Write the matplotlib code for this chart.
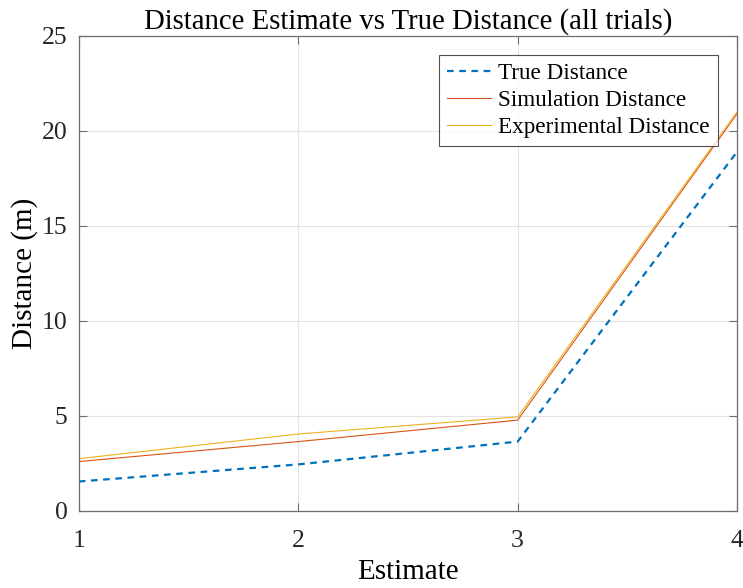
import matplotlib
matplotlib.use("Agg")
import matplotlib.pyplot as plt

estimates = [1, 2, 3, 4]
true_dist = [1.55, 2.45, 3.65, 18.9]
sim_dist = [2.6, 3.65, 4.78, 20.9]
exp_dist = [2.75, 4.05, 4.95, 21.0]
xticks = [1, 2, 3, 4]
yticks = [0, 5, 10, 15, 20, 25]

plt.rcParams['font.family'] = ['Liberation Serif', 'DejaVu Serif']

fig = plt.figure(figsize=(7.43, 5.88), dpi=100)
ax = fig.add_axes([0.106, 0.131, 0.886, 0.808])

ax.plot(estimates, true_dist, linestyle=(0, (3, 2.5)), color='#0072BD', linewidth=1.6, label='True Distance')
ax.plot(estimates, sim_dist, color='#D95319', linewidth=0.8, label='Simulation Distance')
ax.plot(estimates, exp_dist, color='#EDB120', linewidth=0.8, label='Experimental Distance')

ax.set_xlim(1, 4)
ax.set_ylim(0, 25)
ax.set_xticks(xticks)
ax.set_yticks(yticks)
ax.grid(True, color='#e3e3e3', linewidth=0.8)
ax.set_axisbelow(True)
for s in ax.spines.values():
    s.set_color('#6e6e6e')
    s.set_linewidth(0.9)
ax.tick_params(direction='in', length=6, colors='#262626', labelsize=18.5, top=True, right=True, color='#6e6e6e')
ax.tick_params(axis='x', pad=13.5)
ax.tick_params(axis='y', pad=8)

ax.set_title('Distance Estimate vs True Distance (all trials)', fontsize=20.7, color='#000000', pad=5)
ax.set_xlabel('Estimate', fontsize=21, labelpad=5)
ax.set_ylabel('Distance (m)', fontsize=21, labelpad=3)

leg = ax.legend(loc='upper right', bbox_to_anchor=(0.971, 0.96), fontsize=16.7, frameon=True, fancybox=False,
                edgecolor='#262626', handlelength=1.9, borderpad=0.35, labelspacing=0.24, handletextpad=0.3,
                borderaxespad=0)
leg.get_frame().set_linewidth(0.8)

fig.savefig('out.png', dpi=100)
